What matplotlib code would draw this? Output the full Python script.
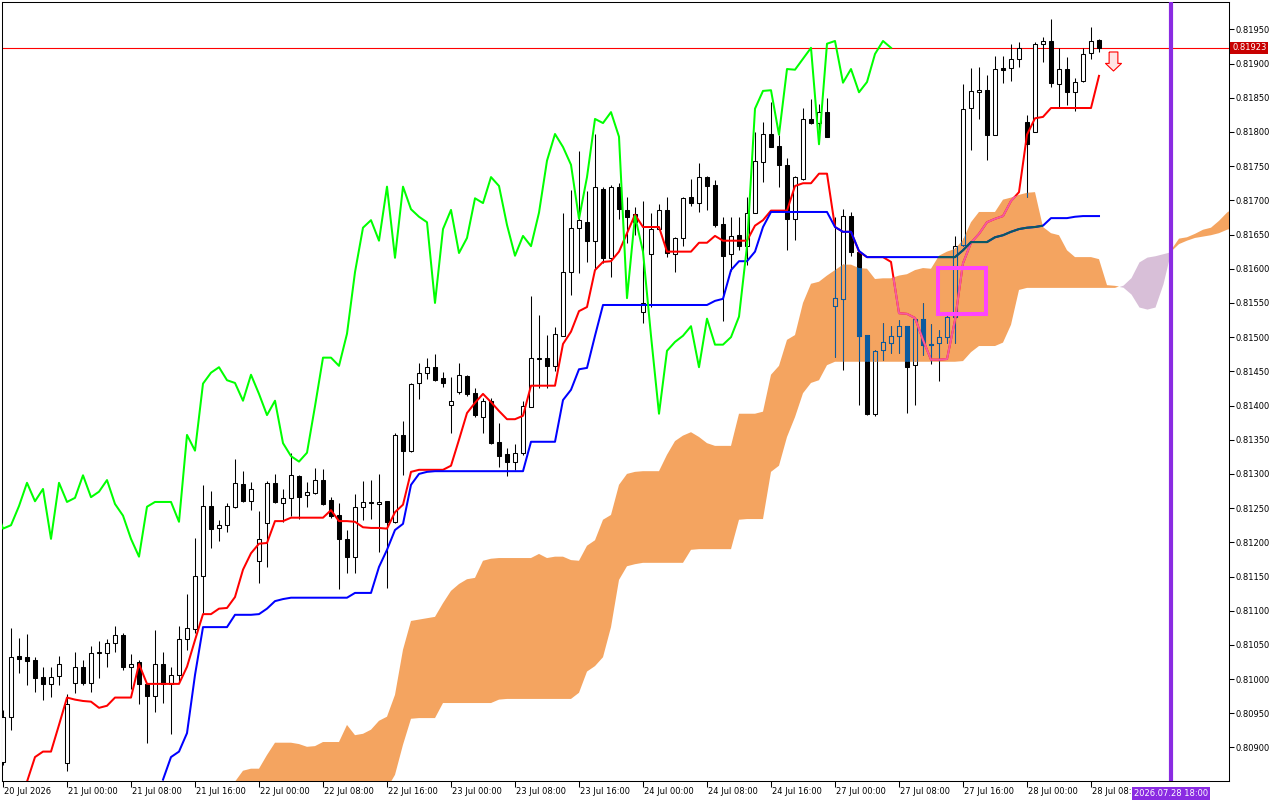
import numpy as np
import matplotlib
matplotlib.use('Agg')
import matplotlib.pyplot as plt
from matplotlib.path import Path
from matplotlib.patches import Rectangle
from matplotlib.transforms import ScaledTranslation

# hourly candles, bar 0 = 20 Jul 16:00
opens = [
    0.80879, 0.80945, 0.81034, 0.81032, 0.81028, 0.81003, 0.80993, 0.81004, 0.80877, 0.80994,
    0.81017, 0.80995, 0.81038, 0.81038, 0.81053, 0.81065, 0.81018, 0.81025, 0.80993, 0.80976,
    0.81022, 0.80993, 0.81006, 0.81058, 0.81073, 0.81151, 0.81253, 0.81221, 0.81225, 0.81252,
    0.81285, 0.81260, 0.81173, 0.81228, 0.81287, 0.81258, 0.81265, 0.81297, 0.81269, 0.81272,
    0.81291, 0.81262, 0.81240, 0.81205, 0.81179, 0.81252, 0.81258, 0.81256, 0.81260, 0.81230,
    0.81357, 0.81334, 0.81433, 0.81448, 0.81456, 0.81440, 0.81401, 0.81420, 0.81443, 0.81418,
    0.81383, 0.81407, 0.81347, 0.81329, 0.81318, 0.81331, 0.81398, 0.81468, 0.81470, 0.81458,
    0.81502, 0.81595, 0.81660, 0.81668, 0.81641, 0.81717, 0.81616, 0.81720, 0.81686, 0.81680,
    0.81537, 0.81622, 0.81658, 0.81686, 0.81622, 0.81645, 0.81705, 0.81696, 0.81734, 0.81722,
    0.81665, 0.81622, 0.81649, 0.81633, 0.81682, 0.81756, 0.81797, 0.81779, 0.81752, 0.81673,
    0.81731, 0.81819, 0.81813, 0.81829, 0.81546, 0.81556, 0.81677, 0.81625, 0.81503, 0.81388,
    0.81481, 0.81492, 0.81502, 0.81516, 0.81459, 0.81527, 0.81490, 0.81492, 0.81500, 0.81530,
    0.81635, 0.81835, 0.81858, 0.81861, 0.81796, 0.81894, 0.81894, 0.81907, 0.81815, 0.81800,
    0.81929, 0.81933, 0.81870, 0.81892, 0.81858, 0.81875, 0.81915, 0.81934,
]
highs = [
    0.80955, 0.81074, 0.81060, 0.81066, 0.81032, 0.81017, 0.81017, 0.81034, 0.80978, 0.81039,
    0.81028, 0.81048, 0.81055, 0.81059, 0.81078, 0.81067, 0.81036, 0.81028, 0.80995, 0.81072,
    0.81039, 0.81018, 0.81077, 0.81125, 0.81207, 0.81284, 0.81275, 0.81233, 0.81258, 0.81322,
    0.81304, 0.81288, 0.81246, 0.81290, 0.81300, 0.81278, 0.81331, 0.81298, 0.81288, 0.81309,
    0.81307, 0.81266, 0.81258, 0.81218, 0.81271, 0.81290, 0.81291, 0.81300, 0.81261, 0.81360,
    0.81377, 0.81433, 0.81462, 0.81470, 0.81475, 0.81449, 0.81442, 0.81462, 0.81445, 0.81426,
    0.81411, 0.81411, 0.81375, 0.81338, 0.81344, 0.81407, 0.81560, 0.81532, 0.81503, 0.81515,
    0.81682, 0.81715, 0.81772, 0.81714, 0.81797, 0.81720, 0.81722, 0.81725, 0.81705, 0.81690,
    0.81699, 0.81682, 0.81695, 0.81705, 0.81646, 0.81705, 0.81731, 0.81755, 0.81735, 0.81730,
    0.81676, 0.81676, 0.81676, 0.81705, 0.81800, 0.81815, 0.81844, 0.81796, 0.81762, 0.81735,
    0.81835, 0.81848, 0.81841, 0.81850, 0.81676, 0.81687, 0.81683, 0.81628, 0.81503, 0.81481,
    0.81521, 0.81516, 0.81525, 0.81516, 0.81528, 0.81550, 0.81519, 0.81511, 0.81537, 0.81648,
    0.81870, 0.81894, 0.81895, 0.81883, 0.81911, 0.81911, 0.81929, 0.81932, 0.81825, 0.81932,
    0.81939, 0.81965, 0.81923, 0.81910, 0.81879, 0.81923, 0.81953, 0.81936,
]
lows = [
    0.80875, 0.80926, 0.81009, 0.80992, 0.80981, 0.80969, 0.80974, 0.80992, 0.80866, 0.80979,
    0.80992, 0.80981, 0.81002, 0.81017, 0.81039, 0.81013, 0.80986, 0.80964, 0.80906, 0.80952,
    0.80965, 0.80920, 0.80996, 0.81043, 0.81067, 0.81096, 0.81192, 0.81202, 0.81215, 0.81250,
    0.81259, 0.81247, 0.81141, 0.81164, 0.81258, 0.81230, 0.81239, 0.81234, 0.81252, 0.81271,
    0.81255, 0.81236, 0.81132, 0.81155, 0.81155, 0.81233, 0.81234, 0.81186, 0.81133, 0.81228,
    0.81298, 0.81332, 0.81410, 0.81439, 0.81436, 0.81427, 0.81360, 0.81417, 0.81414, 0.81383,
    0.81360, 0.81344, 0.81310, 0.81297, 0.81306, 0.81328, 0.81398, 0.81426, 0.81426, 0.81451,
    0.81502, 0.81562, 0.81594, 0.81610, 0.81600, 0.81608, 0.81588, 0.81673, 0.81638, 0.81649,
    0.81521, 0.81544, 0.81657, 0.81617, 0.81595, 0.81633, 0.81692, 0.81683, 0.81686, 0.81661,
    0.81524, 0.81597, 0.81627, 0.81606, 0.81682, 0.81727, 0.81778, 0.81720, 0.81627, 0.81642,
    0.81730, 0.81812, 0.81803, 0.81792, 0.81471, 0.81452, 0.81619, 0.81401, 0.81386, 0.81385,
    0.81467, 0.81477, 0.81477, 0.81389, 0.81401, 0.81474, 0.81461, 0.81436, 0.81492, 0.81492,
    0.81633, 0.81774, 0.81819, 0.81759, 0.81796, 0.81872, 0.81875, 0.81895, 0.81705, 0.81800,
    0.81902, 0.81866, 0.81837, 0.81839, 0.81831, 0.81873, 0.81907, 0.81917,
]
closes = [
    0.80945, 0.81032, 0.81030, 0.81027, 0.81002, 0.80993, 0.81003, 0.81022, 0.80963, 0.81017,
    0.80995, 0.81038, 0.81040, 0.81053, 0.81065, 0.81017, 0.81022, 0.80993, 0.80976, 0.81022,
    0.80993, 0.81006, 0.81058, 0.81074, 0.81151, 0.81253, 0.81220, 0.81225, 0.81253, 0.81287,
    0.81260, 0.81278, 0.81205, 0.81287, 0.81259, 0.81265, 0.81298, 0.81266, 0.81274, 0.81291,
    0.81256, 0.81239, 0.81205, 0.81179, 0.81252, 0.81259, 0.81259, 0.81259, 0.81230, 0.81357,
    0.81334, 0.81432, 0.81448, 0.81456, 0.81437, 0.81433, 0.81407, 0.81445, 0.81417, 0.81386,
    0.81407, 0.81345, 0.81326, 0.81318, 0.81331, 0.81399, 0.81470, 0.81470, 0.81458, 0.81505,
    0.81595, 0.81660, 0.81671, 0.81641, 0.81720, 0.81616, 0.81720, 0.81687, 0.81676, 0.81668,
    0.81550, 0.81658, 0.81686, 0.81623, 0.81645, 0.81703, 0.81696, 0.81734, 0.81721, 0.81664,
    0.81619, 0.81648, 0.81633, 0.81682, 0.81758, 0.81797, 0.81778, 0.81752, 0.81673, 0.81734,
    0.81819, 0.81813, 0.81829, 0.81793, 0.81557, 0.81677, 0.81625, 0.81502, 0.81388, 0.81480,
    0.81493, 0.81502, 0.81516, 0.81456, 0.81527, 0.81489, 0.81489, 0.81500, 0.81530, 0.81633,
    0.81834, 0.81860, 0.81861, 0.81796, 0.81892, 0.81891, 0.81907, 0.81923, 0.81782, 0.81929,
    0.81933, 0.81872, 0.81892, 0.81858, 0.81873, 0.81914, 0.81933, 0.81923,
]

# ichimoku lines
tenkan_start = 2
tenkan = [
    0.80823, 0.80850, 0.80886, 0.80894, 0.80894, 0.80933, 0.80973, 0.80970, 0.80968, 0.80967,
    0.80958, 0.80961, 0.80973, 0.80973, 0.80973, 0.81022, 0.80993, 0.80993, 0.80993, 0.80993,
    0.80993, 0.81018, 0.81057, 0.81095, 0.81095, 0.81103, 0.81104, 0.81120, 0.81160, 0.81184,
    0.81198, 0.81199, 0.81231, 0.81231, 0.81236, 0.81236, 0.81236, 0.81236, 0.81236, 0.81247,
    0.81231, 0.81231, 0.81230, 0.81222, 0.81221, 0.81221, 0.81220, 0.81244, 0.81255, 0.81303,
    0.81306, 0.81306, 0.81306, 0.81306, 0.81312, 0.81350, 0.81389, 0.81404, 0.81417, 0.81405,
    0.81392, 0.81380, 0.81380, 0.81385, 0.81429, 0.81429, 0.81429, 0.81429, 0.81490, 0.81508,
    0.81538, 0.81544, 0.81598, 0.81610, 0.81611, 0.81625, 0.81652, 0.81679, 0.81661, 0.81661,
    0.81661, 0.81625, 0.81625, 0.81625, 0.81625, 0.81638, 0.81638, 0.81648, 0.81641, 0.81641,
    0.81641, 0.81641, 0.81663, 0.81671, 0.81685, 0.81685, 0.81685, 0.81721, 0.81725, 0.81725,
    0.81739, 0.81739, 0.81661, 0.81654, 0.81654, 0.81625, 0.81617, 0.81617, 0.81617, 0.81610,
    0.81535, 0.81534, 0.81528, 0.81496, 0.81467, 0.81467, 0.81468, 0.81525, 0.81608, 0.81638,
    0.81651, 0.81668, 0.81673, 0.81677, 0.81699, 0.81712, 0.81796, 0.81820, 0.81822, 0.81835,
    0.81835, 0.81835, 0.81835, 0.81835, 0.81835, 0.81882,
]
kijun_start = 20
kijun = [
    0.80853, 0.80886, 0.80894, 0.80921, 0.81006, 0.81076, 0.81076, 0.81076, 0.81076, 0.81094,
    0.81094, 0.81094, 0.81095, 0.81103, 0.81114, 0.81117, 0.81119, 0.81119, 0.81119, 0.81119,
    0.81119, 0.81119, 0.81119, 0.81119, 0.81126, 0.81126, 0.81126, 0.81164, 0.81189, 0.81218,
    0.81227, 0.81284, 0.81300, 0.81303, 0.81304, 0.81304, 0.81304, 0.81304, 0.81304, 0.81304,
    0.81304, 0.81304, 0.81304, 0.81304, 0.81304, 0.81304, 0.81347, 0.81347, 0.81347, 0.81347,
    0.81408, 0.81423, 0.81453, 0.81455, 0.81502, 0.81547, 0.81547, 0.81547, 0.81547, 0.81547,
    0.81547, 0.81547, 0.81547, 0.81547, 0.81547, 0.81547, 0.81547, 0.81547, 0.81547, 0.81553,
    0.81556, 0.81598, 0.81611, 0.81611, 0.81625, 0.81661, 0.81683, 0.81683, 0.81683, 0.81683,
    0.81683, 0.81683, 0.81683, 0.81683, 0.81661, 0.81654, 0.81654, 0.81626, 0.81617, 0.81617,
    0.81617, 0.81617, 0.81617, 0.81617, 0.81617, 0.81617, 0.81617, 0.81617, 0.81617, 0.81617,
    0.81627, 0.81639, 0.81639, 0.81639, 0.81646, 0.81649, 0.81654, 0.81658, 0.81660, 0.81661,
    0.81663, 0.81674, 0.81674, 0.81674, 0.81676, 0.81677, 0.81677, 0.81677,
]
cloud_start = 29
span_a = [
    0.80850, 0.80866, 0.80869, 0.80869, 0.80889, 0.80907, 0.80907, 0.80907, 0.80905, 0.80901,
    0.80902, 0.80908, 0.80908, 0.80908, 0.80933, 0.80918, 0.80920, 0.80926, 0.80939, 0.80945,
    0.80977, 0.81043, 0.81085, 0.81087, 0.81089, 0.81091, 0.81111, 0.81129, 0.81139, 0.81146,
    0.81148, 0.81173, 0.81176, 0.81177, 0.81177, 0.81177, 0.81177, 0.81177, 0.81183, 0.81177,
    0.81179, 0.81179, 0.81174, 0.81173, 0.81195, 0.81203, 0.81233, 0.81240, 0.81284, 0.81300,
    0.81303, 0.81304, 0.81304, 0.81304, 0.81328, 0.81348, 0.81356, 0.81361, 0.81354, 0.81345,
    0.81341, 0.81341, 0.81341, 0.81388, 0.81388, 0.81388, 0.81391, 0.81445, 0.81458, 0.81496,
    0.81503, 0.81550, 0.81578, 0.81581, 0.81590, 0.81598, 0.81606, 0.81606, 0.81601, 0.81600,
    0.81585, 0.81586, 0.81586, 0.81590, 0.81592, 0.81598, 0.81601, 0.81600, 0.81619, 0.81625,
    0.81629, 0.81642, 0.81668, 0.81683, 0.81683, 0.81683, 0.81701, 0.81704, 0.81708, 0.81711,
    0.81712, 0.81661, 0.81652, 0.81649, 0.81627, 0.81617, 0.81617, 0.81617, 0.81614, 0.81576,
    0.81575, 0.81573, 0.81563, 0.81544, 0.81541, 0.81544, 0.81578, 0.81627, 0.81644, 0.81646,
    0.81651, 0.81657, 0.81660, 0.81670, 0.81682, 0.81690,
]
span_b = [
    0.80800, 0.80800, 0.80800, 0.80800, 0.80800, 0.80800, 0.80800, 0.80800, 0.80800, 0.80800,
    0.80800, 0.80800, 0.80800, 0.80800, 0.80800, 0.80800, 0.80800, 0.80800, 0.80800, 0.80840,
    0.80860, 0.80904, 0.80942, 0.80943, 0.80943, 0.80943, 0.80965, 0.80965, 0.80965, 0.80965,
    0.80965, 0.80965, 0.80965, 0.80970, 0.80971, 0.80971, 0.80971, 0.80971, 0.80971, 0.80971,
    0.80971, 0.80971, 0.80971, 0.80980, 0.81011, 0.81019, 0.81032, 0.81076, 0.81145, 0.81165,
    0.81168, 0.81170, 0.81170, 0.81170, 0.81170, 0.81170, 0.81170, 0.81189, 0.81190, 0.81190,
    0.81190, 0.81190, 0.81190, 0.81233, 0.81234, 0.81234, 0.81234, 0.81303, 0.81312, 0.81354,
    0.81383, 0.81418, 0.81433, 0.81437, 0.81459, 0.81464, 0.81464, 0.81464, 0.81464, 0.81464,
    0.81464, 0.81464, 0.81464, 0.81464, 0.81464, 0.81464, 0.81464, 0.81464, 0.81464, 0.81464,
    0.81464, 0.81465, 0.81478, 0.81487, 0.81487, 0.81487, 0.81492, 0.81518, 0.81569, 0.81572,
    0.81572, 0.81572, 0.81572, 0.81572, 0.81572, 0.81572, 0.81572, 0.81572, 0.81572, 0.81572,
    0.81572, 0.81576, 0.81587, 0.81610, 0.81617, 0.81619, 0.81622, 0.81625, 0.81636, 0.81641,
    0.81645, 0.81647, 0.81649, 0.81652, 0.81657, 0.81660,
]
chikou_shift = 26

time_labels = ['20 Jul 2026', '21 Jul 00:00', '21 Jul 08:00', '21 Jul 16:00',
               '22 Jul 00:00', '22 Jul 08:00', '22 Jul 16:00', '23 Jul 00:00',
               '23 Jul 08:00', '23 Jul 16:00', '24 Jul 00:00', '24 Jul 08:00',
               '24 Jul 16:00', '27 Jul 00:00', '27 Jul 08:00', '27 Jul 16:00',
               '28 Jul 00:00', '28 Jul 08:00']
bars_per_label = 8
last_price = 0.81923
vline_bar = 146
vline_label = '2026.07.28 18:00'
box_bars = (116.9, 122.9)
box_prices = (0.81534, 0.81601)
arrow_bar = 138.8
arrow_price = 0.81904

CLOUD_UP = '#f4a460'
CLOUD_DN = '#d8bfd8'

plt.rcParams['font.family'] = ['DejaVu Sans']
plt.rcParams['font.size'] = 6

fig = plt.figure(figsize=(12.8, 8), dpi=100)
ax = fig.add_axes([2 / 1280, 19 / 800, 1227 / 1280, 779 / 800])
ax.set_xlim(-0.125, 153.25)
ax.set_ylim(0.80851, 0.81990)

o = np.array(opens)
h = np.array(highs)
l = np.array(lows)
c = np.array(closes)
idx = np.arange(len(c))
up = c >= o

# cloud
cx = np.arange(cloud_start, cloud_start + len(span_a))
sa = np.array(span_a)
sb = np.array(span_b)
bull = ax.fill_between(cx, sa, sb, where=sa >= sb, interpolate=True,
                       color=CLOUD_UP, lw=0, zorder=1)
ax.fill_between(cx, sa, sb, where=sa < sb, interpolate=True,
                color=CLOUD_DN, lw=0, zorder=1)
cloud_path = Path.make_compound_path(*bull.get_paths())


def clip_to_cloud(artist):
    artist.set_clip_path(cloud_path, ax.transData)


ax.axhline(last_price, color='#ff0000', lw=0.8, zorder=2)


def draw_candles(wick, dn_face, up_face, edge, z, clipped=False):
    wl = ax.vlines(idx, l, h, colors=wick, lw=0.75, zorder=z)
    faces = np.where(up, up_face, dn_face)
    bodies = ax.bar(idx, np.abs(c - o), width=0.5, bottom=np.minimum(o, c),
                    color=faces, edgecolor=edge, lw=0.75, zorder=z + 0.05)
    if clipped:
        clip_to_cloud(wl)
        for p in bodies.patches:
            clip_to_cloud(p)


draw_candles('black', 'black', 'white', 'black', 3)
# parts of candles inside the cloud show in inverted colours
draw_candles('#0b5b9f', '#0b5b9f', CLOUD_UP, '#0b5b9f', 3.2, clipped=True)

tx = np.arange(tenkan_start, tenkan_start + len(tenkan))
kx = np.arange(kijun_start, kijun_start + len(kijun))
ax.plot(tx, tenkan, color='#ff0000', lw=1.45, zorder=4)
t2, = ax.plot(tx, tenkan, color='#f45b9f', lw=1.45, zorder=4.1)
clip_to_cloud(t2)
ax.plot(kx, kijun, color='#0000ff', lw=1.45, zorder=4.2)
k2, = ax.plot(kx, kijun, color='#0b5b60', lw=1.45, zorder=4.3)
clip_to_cloud(k2)
ax.plot(idx - chikou_shift, c, color='#00ff00', lw=1.45, zorder=4.4)

ax.add_patch(Rectangle((box_bars[0], box_prices[0]), box_bars[1] - box_bars[0],
                       box_prices[1] - box_prices[0], fill=False,
                       ec='#ff44ff', lw=2.9, zorder=5))

arrow = Path([(-0.23, 0.5), (0.23, 0.5), (0.23, -0.1), (0.42, -0.1), (0.0, -0.5),
              (-0.42, -0.1), (-0.23, -0.1), (-0.23, 0.5)])
ax.plot([arrow_bar], [arrow_price], marker=arrow, markersize=13.7,
        mfc='#ffe4e4', mec='#ff0000', mew=0.8, ls='none', zorder=5)

ax.axvline(vline_bar, color='#8a2be2', lw=3.0, zorder=6)

# axes look
for s in ax.spines.values():
    s.set_linewidth(0.75)
    s.set_color('black')
ax.yaxis.tick_right()
ax.set_yticks(np.arange(0.80900, 0.81951, 0.0005))
ax.yaxis.set_major_formatter(plt.FormatStrFormatter('%.5f'))
ax.tick_params(axis='y', direction='out', length=3.5, width=0.75, pad=1,
               labelsize=6)
ax.set_xticks(np.arange(len(time_labels)) * bars_per_label)
ax.set_xticklabels(time_labels, ha='left')
ax.tick_params(axis='x', direction='out', length=4.2, width=0.75, pad=0,
               labelsize=6)
shift = ScaledTranslation(1 / 100, 0, fig.dpi_scale_trans)
for lbl in ax.get_xticklabels():
    lbl.set_transform(lbl.get_transform() + shift)

ax.annotate(f'{last_price:.5f}', xy=(1, last_price),
            xycoords=('axes fraction', 'data'), xytext=(2.2, 0),
            textcoords='offset points', ha='left', va='center', color='white',
            fontsize=6, annotation_clip=False, zorder=10,
            bbox=dict(boxstyle='square,pad=0.2', fc='#c80000', ec='none'))
ax.annotate(vline_label, xy=(vline_bar, 0), xycoords=('data', 'axes fraction'),
            xytext=(0, -5.5), textcoords='offset points', ha='center', va='top',
            color='white', fontsize=6, annotation_clip=False, zorder=10,
            bbox=dict(boxstyle='square,pad=0.25', fc='#8a2be2', ec='none'))

fig.savefig('out.png', dpi=100)
